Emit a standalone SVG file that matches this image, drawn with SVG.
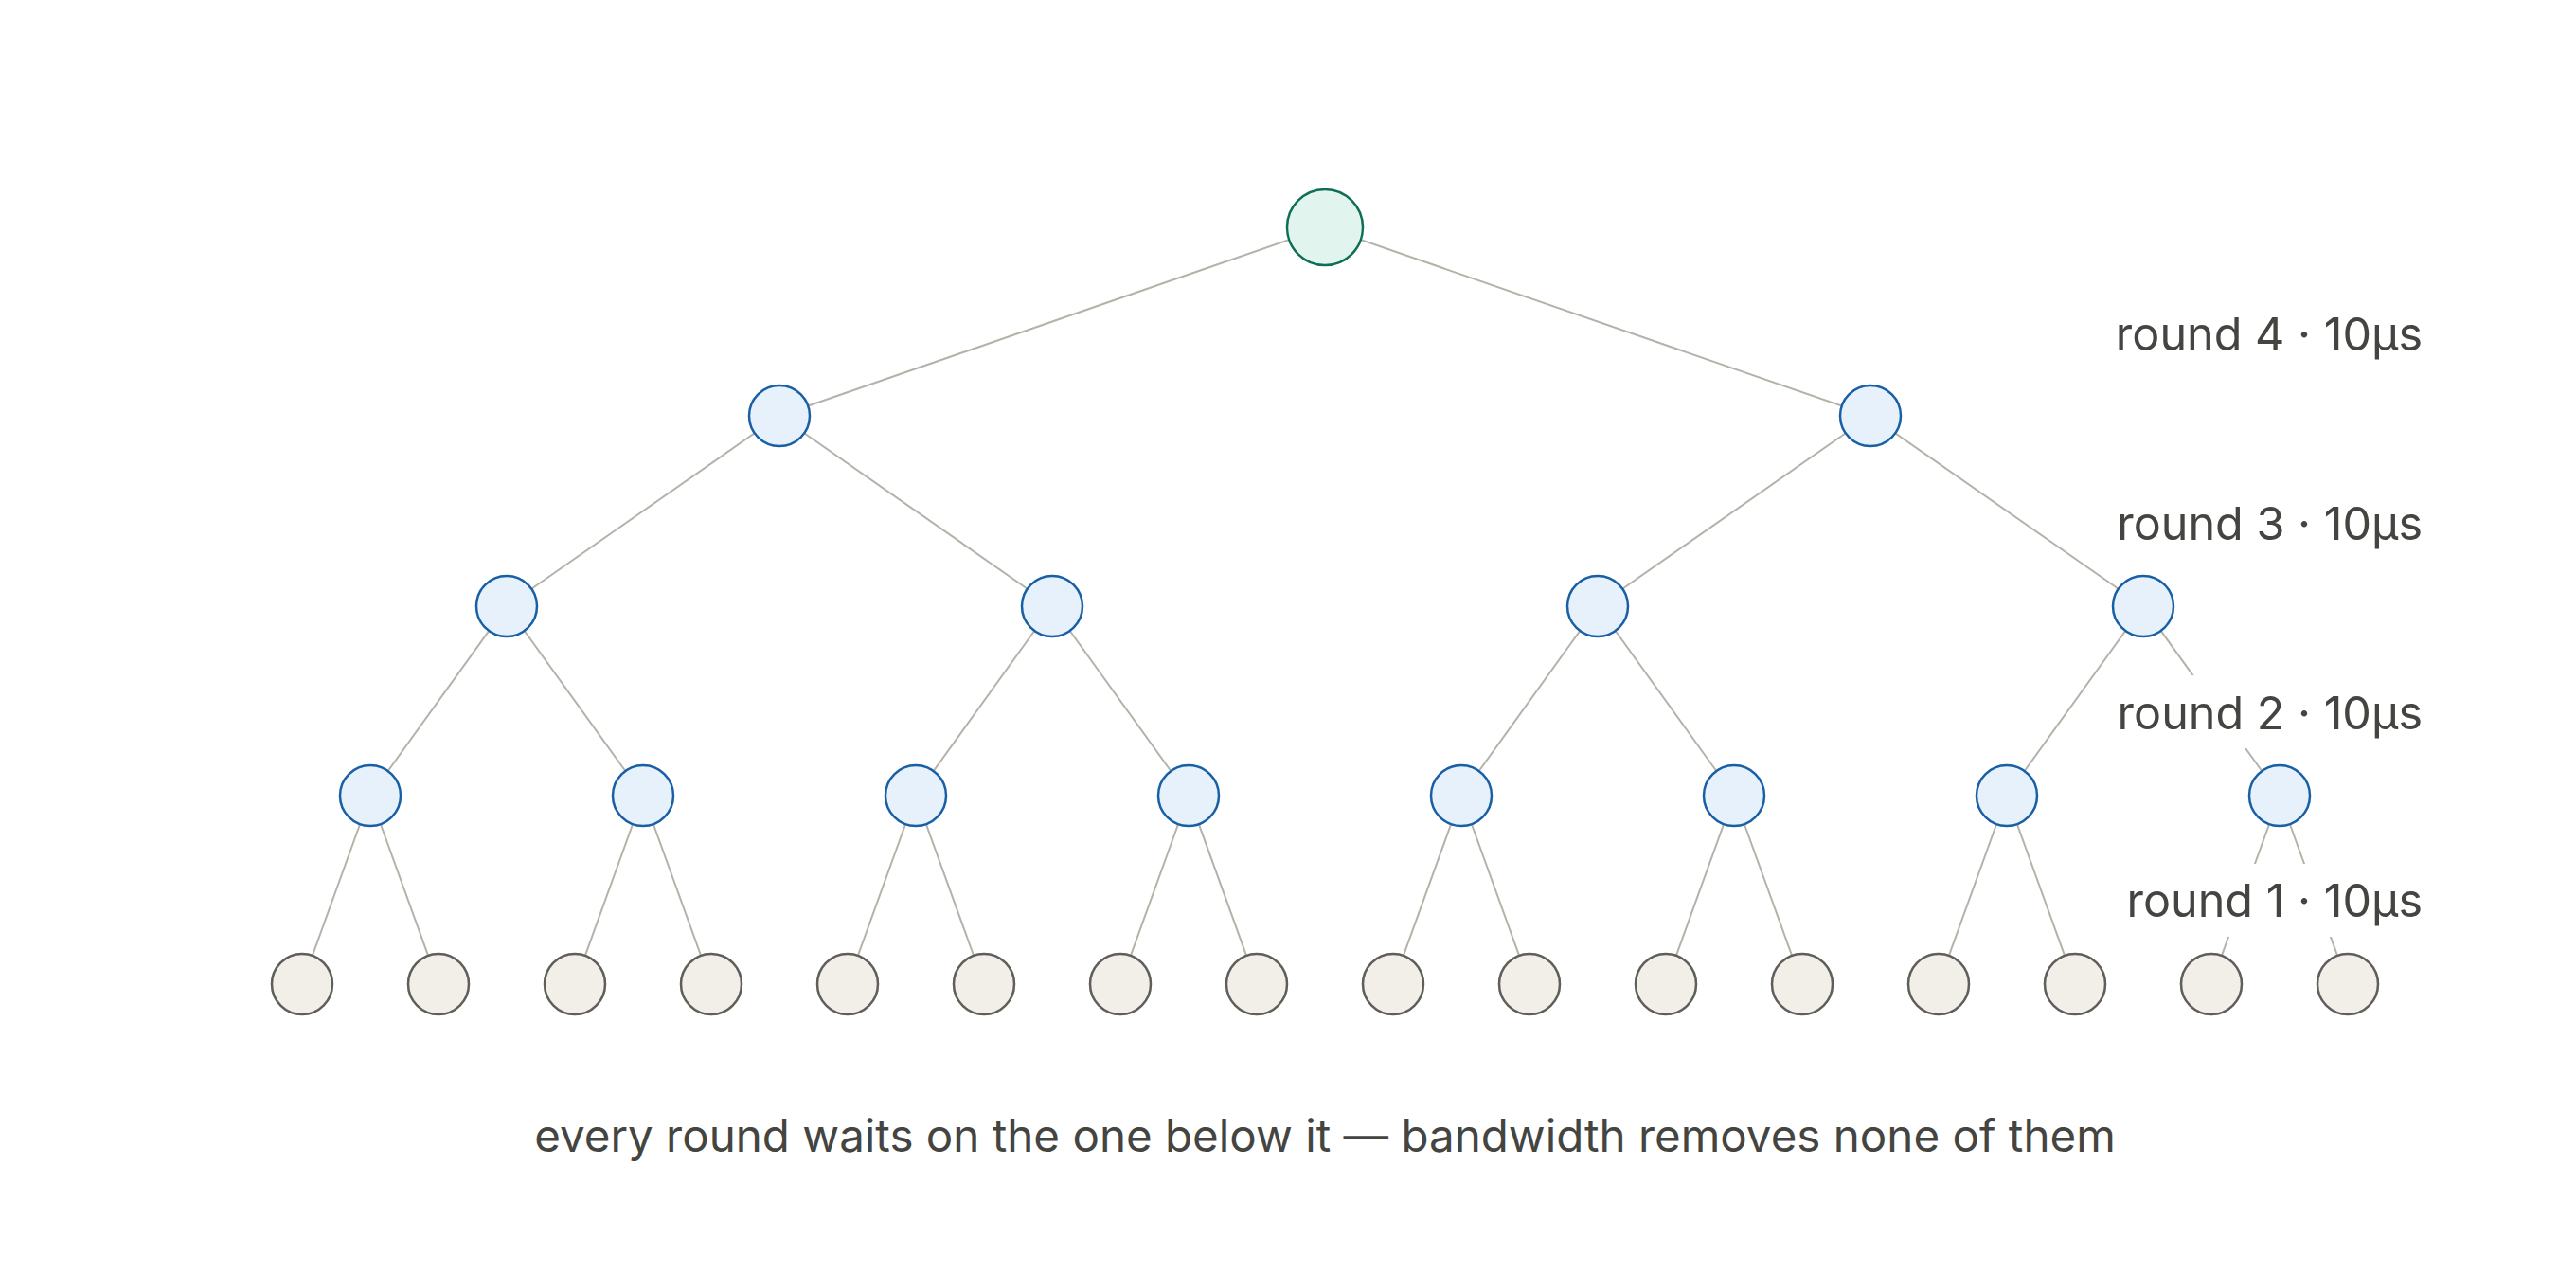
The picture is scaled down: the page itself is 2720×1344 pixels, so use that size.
<svg xmlns="http://www.w3.org/2000/svg" width="2720" height="1344" viewBox="0 0 2720 1344">
<style>
.e{stroke:#b4b2a9;stroke-width:2;fill:none}
.r{fill:#e1f5ee;stroke:#0f6e56;stroke-width:2.5}
.b{fill:#e6f1fb;stroke:#185fa5;stroke-width:2.5}
.l{fill:#f1efe8;stroke:#5f5e5a;stroke-width:2.5}
.t{font-family:Inter,"Liberation Sans",sans-serif;font-size:48.5px;fill:#444441}
.c{font-family:Inter,"Liberation Sans",sans-serif;font-size:47.5px;fill:#444441}
</style>
<rect width="2720" height="1344" fill="#fff"/>
<g id="connectors" class="e">
<line x1="1399" y1="240" x2="823" y2="439"/><line x1="1399" y1="240" x2="1975" y2="439"/>
<line x1="823" y1="439" x2="535" y2="640"/><line x1="823" y1="439" x2="1111" y2="640"/>
<line x1="1975" y1="439" x2="1687" y2="640"/><line x1="1975" y1="439" x2="2263" y2="640"/>
<line x1="535" y1="640" x2="391" y2="840"/><line x1="535" y1="640" x2="679" y2="840"/>
<line x1="1111" y1="640" x2="967" y2="840"/><line x1="1111" y1="640" x2="1255" y2="840"/>
<line x1="1687" y1="640" x2="1543" y2="840"/><line x1="1687" y1="640" x2="1831" y2="840"/>
<line x1="2263" y1="640" x2="2119" y2="840"/><line x1="2263" y1="640" x2="2407" y2="840"/>
<line x1="391" y1="840" x2="319" y2="1039"/><line x1="391" y1="840" x2="463" y2="1039"/>
<line x1="679" y1="840" x2="607" y2="1039"/><line x1="679" y1="840" x2="751" y2="1039"/>
<line x1="967" y1="840" x2="895" y2="1039"/><line x1="967" y1="840" x2="1039" y2="1039"/>
<line x1="1255" y1="840" x2="1183" y2="1039"/><line x1="1255" y1="840" x2="1327" y2="1039"/>
<line x1="1543" y1="840" x2="1471" y2="1039"/><line x1="1543" y1="840" x2="1615" y2="1039"/>
<line x1="1831" y1="840" x2="1759" y2="1039"/><line x1="1831" y1="840" x2="1903" y2="1039"/>
<line x1="2119" y1="840" x2="2047" y2="1039"/><line x1="2119" y1="840" x2="2191" y2="1039"/>
<line x1="2407" y1="840" x2="2335" y2="1039"/><line x1="2407" y1="840" x2="2479" y2="1039"/>
</g>
<g id="root"><circle class="r" cx="1399" cy="240" r="40"/></g>
<g id="level1"><circle class="b" cx="823" cy="439" r="32"/><circle class="b" cx="1975" cy="439" r="32"/></g>
<g id="level2"><circle class="b" cx="535" cy="640" r="32"/><circle class="b" cx="1111" cy="640" r="32"/><circle class="b" cx="1687" cy="640" r="32"/><circle class="b" cx="2263" cy="640" r="32"/></g>
<g id="level3"><circle class="b" cx="391" cy="840" r="32"/><circle class="b" cx="679" cy="840" r="32"/><circle class="b" cx="967" cy="840" r="32"/><circle class="b" cx="1255" cy="840" r="32"/><circle class="b" cx="1543" cy="840" r="32"/><circle class="b" cx="1831" cy="840" r="32"/><circle class="b" cx="2119" cy="840" r="32"/><circle class="b" cx="2407" cy="840" r="32"/></g>
<g id="leaves"><circle class="l" cx="319" cy="1039" r="32"/><circle class="l" cx="463" cy="1039" r="32"/><circle class="l" cx="607" cy="1039" r="32"/><circle class="l" cx="751" cy="1039" r="32"/><circle class="l" cx="895" cy="1039" r="32"/><circle class="l" cx="1039" cy="1039" r="32"/><circle class="l" cx="1183" cy="1039" r="32"/><circle class="l" cx="1327" cy="1039" r="32"/><circle class="l" cx="1471" cy="1039" r="32"/><circle class="l" cx="1615" cy="1039" r="32"/><circle class="l" cx="1759" cy="1039" r="32"/><circle class="l" cx="1903" cy="1039" r="32"/><circle class="l" cx="2047" cy="1039" r="32"/><circle class="l" cx="2191" cy="1039" r="32"/><circle class="l" cx="2335" cy="1039" r="32"/><circle class="l" cx="2479" cy="1039" r="32"/></g>
<g id="labels">
<rect x="2220" y="713" width="350" height="77" fill="#fff"/>
<rect x="2220" y="912" width="350" height="77" fill="#fff"/>
<text class="t" x="2558" y="370" text-anchor="end">round 4 · 10µs</text>
<text class="t" x="2558" y="570" text-anchor="end">round 3 · 10µs</text>
<text class="t" x="2558" y="770" text-anchor="end">round 2 · 10µs</text>
<text class="t" x="2558" y="968" text-anchor="end">round 1 · 10µs</text>
<text class="c" x="1399" y="1216" text-anchor="middle">every round waits on the one below it — bandwidth removes none of them</text>
</g>
</svg>
